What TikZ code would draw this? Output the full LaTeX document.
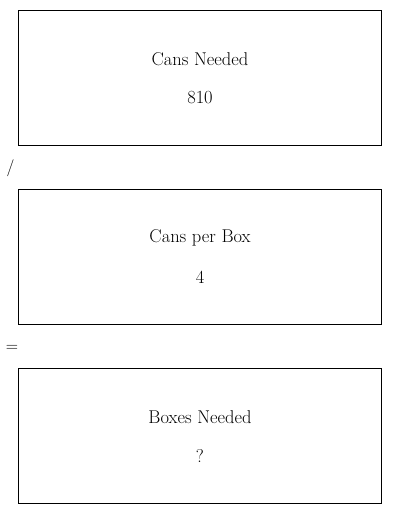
\documentclass[tikz,border=0pt]{standalone}
\begin{document}
\begin{tikzpicture}[x=1pt,y=-1pt,
  box/.style={draw,line width=0.8pt},
  lbl/.style={font=\fontsize{18.5}{22}\selectfont,inner sep=0pt,anchor=center},
  op/.style={font=\fontsize{17}{20}\selectfont,inner sep=0pt,anchor=center}]
\useasboundingbox (0,0) rectangle (400,514);
\node[box,minimum width=363pt,minimum height=135pt,anchor=north west,inner sep=0pt] (b1) at (18,10) {};
\node[box,minimum width=363pt,minimum height=135pt,anchor=north west,inner sep=0pt] (b2) at (18,189) {};
\node[box,minimum width=363pt,minimum height=135pt,anchor=north west,inner sep=0pt] (b3) at (18,368) {};
\node[lbl] (t1) at (200,59) {Cans Needed};
\node[lbl] (v1) at (200,98) {810};
\node[lbl] (t2) at (200,238) {Cans per Box};
\node[lbl] (v2) at (200,277) {4};
\node[lbl] (t3) at (200,417) {Boxes Needed};
\node[lbl] (v3) at (200,456) {?};
\node[op] (o1) at (10.5,168) {/};
\node[op] (o2) at (12,348) {=};
\end{tikzpicture}
\end{document}
